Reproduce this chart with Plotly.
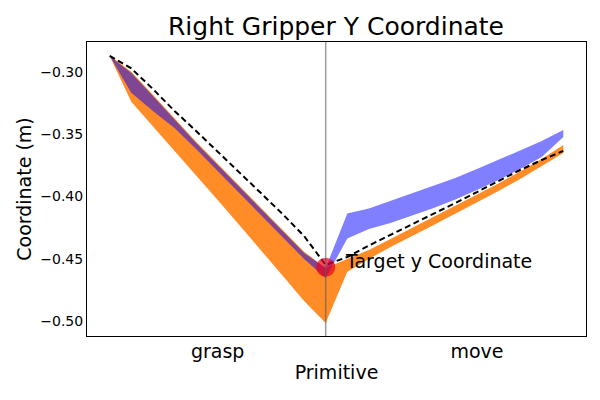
import plotly.graph_objects as go

# time steps: grasp is 0..10, move is 10..21
steps = list(range(22))
primitive_names = ["grasp", "move"]
primitive_ticks = [5, 17]
boundary = 10

target_y = -0.457
target_label = "Target y Coordinate"

reference_y = [-0.2874, -0.2974, -0.3139, -0.3315, -0.3476, -0.3640, -0.3805, -0.3974, -0.4142, -0.4319, -0.4551,
               -0.4487, -0.4395, -0.4311, -0.4226, -0.4142, -0.4054, -0.3966, -0.3877, -0.3789, -0.3709, -0.3636]

orange_upper = [-0.2870, -0.3000, -0.3185, -0.3374, -0.3562, -0.3739, -0.3915, -0.4092, -0.4269, -0.4445, -0.4575,
                -0.4503, -0.4431, -0.4343, -0.4254, -0.4166, -0.4078, -0.3990, -0.3897, -0.3801, -0.3701, -0.3589]
orange_lower = [-0.2874, -0.3241, -0.3436, -0.3636, -0.3833, -0.4030, -0.4230, -0.4430, -0.4636, -0.4840, -0.5017,
                -0.4605, -0.4503, -0.4407, -0.4319, -0.4230, -0.4142, -0.4050, -0.3957, -0.3861, -0.3757, -0.3653]

blue_upper = [-0.2874, -0.3010, -0.3195, -0.3384, -0.3572, -0.3749, -0.3925, -0.4102, -0.4279, -0.4455, -0.4575,
              -0.4138, -0.4098, -0.4038, -0.3977, -0.3917, -0.3853, -0.3781, -0.3709, -0.3632, -0.3556, -0.3468]
blue_lower = [-0.2874, -0.3169, -0.3315, -0.3452, -0.3620, -0.3797, -0.3974, -0.4150, -0.4327, -0.4503, -0.4656,
              -0.4339, -0.4262, -0.4214, -0.4154, -0.4094, -0.4026, -0.3949, -0.3869, -0.3781, -0.3685, -0.3524]

FONT = "DejaVu Sans"


def band(upper, lower, color):
    return go.Scatter(
        x=steps + steps[::-1],
        y=upper + lower[::-1],
        fill="toself",
        fillcolor=color,
        line=dict(width=0),
        mode="lines",
        hoverinfo="skip",
        showlegend=False,
    )


fig = go.Figure()
fig.add_trace(band(orange_upper, orange_lower, "rgba(255,127,14,0.9)"))
fig.add_trace(band(blue_upper, blue_lower, "rgba(0,0,255,0.5)"))

# boundary between the two primitives
fig.add_vline(x=boundary, line=dict(color="rgba(90,90,90,0.6)", width=1.5), layer="above")

fig.add_trace(go.Scatter(
    x=steps, y=reference_y,
    mode="lines",
    line=dict(color="black", width=2, dash="6px,3.5px"),
    showlegend=False,
))

fig.add_trace(go.Scatter(
    x=[boundary], y=[target_y],
    mode="markers",
    marker=dict(color="rgba(235,0,30,0.7)", size=19),
    showlegend=False,
))

fig.add_annotation(
    x=boundary + 1, y=target_y,
    text=target_label,
    showarrow=False,
    xanchor="left", yanchor="middle", yshift=6, xshift=-4,
    font=dict(family=FONT, size=19, color="black"),
)

fig.update_layout(
    width=600, height=400,
    margin=dict(l=87, r=14, t=42, b=64),
    paper_bgcolor="white",
    plot_bgcolor="white",
    hovermode=False,
    font=dict(family=FONT, color="black"),
    title=dict(text="Right Gripper Y Coordinate", x=0.56, xanchor="center",
               y=0.935, yanchor="middle", font=dict(size=25)),
    xaxis=dict(
        range=[-1.05, 22.05],
        tickvals=primitive_ticks, ticktext=primitive_names,
        tickfont=dict(size=19),
        showgrid=False, zeroline=False, automargin=False,
        showline=True, linecolor="black", linewidth=1, mirror=True,
        ticks="", ticklabelstandoff=-2,
        title=dict(text="Primitive", font=dict(size=19), standoff=4),
    ),
    yaxis=dict(
        range=[-0.5121, -0.2762],
        tickvals=[-0.30, -0.35, -0.40, -0.45, -0.50],
        tickformat=".2f",
        tickfont=dict(size=14),
        showgrid=False, zeroline=False, automargin=False,
        showline=True, linecolor="black", linewidth=1, mirror=True,
        ticks="", ticklabelstandoff=0,
        title=dict(text="Coordinate (m)", font=dict(size=19), standoff=3),
    ),
)

# drop the browser's default page margin so the figure sits at the top-left corner
fig.write_html("out.html", config={"displayModeBar": False},
               post_script="document.body.style.margin = '0px';")
